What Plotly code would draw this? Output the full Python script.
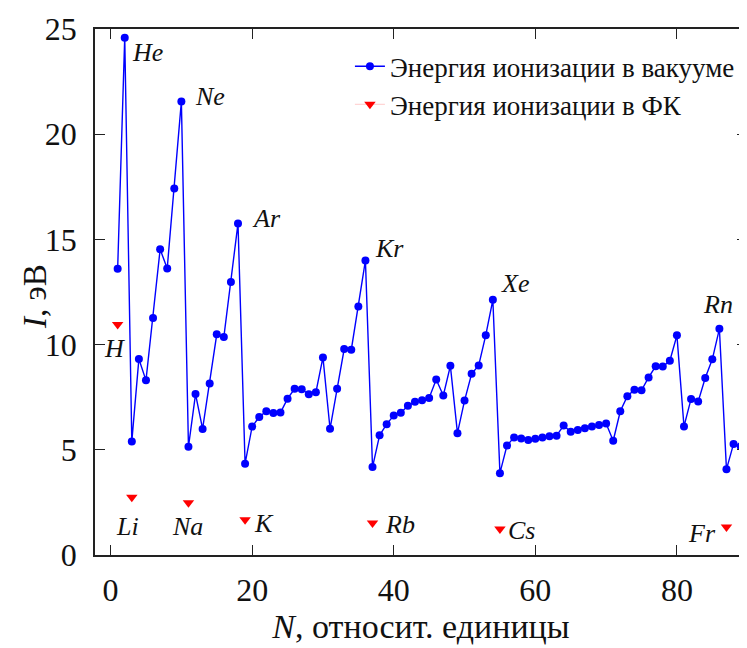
import plotly.graph_objects as go

# Atomic number N and first ionization energy in vacuum, eV
z_vac = list(range(1, 91))
i_vac = [13.60, 24.59, 5.39, 9.32, 8.30, 11.26, 14.53, 13.62, 17.42, 21.56,
         5.14, 7.65, 5.99, 8.15, 10.49, 10.36, 12.97, 15.76, 4.34, 6.11,
         6.56, 6.83, 6.75, 6.77, 7.43, 7.90, 7.88, 7.64, 7.73, 9.39,
         6.00, 7.90, 9.79, 9.75, 11.81, 14.00, 4.18, 5.69, 6.22, 6.63,
         6.76, 7.09, 7.28, 7.36, 7.46, 8.34, 7.58, 8.99, 5.79, 7.34,
         8.61, 9.01, 10.45, 12.13, 3.89, 5.21, 5.58, 5.54, 5.47, 5.53,
         5.58, 5.64, 5.67, 6.15, 5.86, 5.94, 6.02, 6.11, 6.18, 6.25,
         5.43, 6.83, 7.55, 7.86, 7.83, 8.44, 8.97, 8.96, 9.23, 10.44,
         6.11, 7.42, 7.29, 8.41, 9.30, 10.75, 4.07, 5.28, 5.17, 6.31]

# Ionization energy in the photonic crystal (ФК), eV
z_fk = [1, 3, 11, 19, 37, 55, 87]
i_fk = [10.95, 2.75, 2.48, 1.67, 1.52, 1.24, 1.33]
fk_names = ["H", "Li", "Na", "K", "Rb", "Cs", "Fr"]

noble_z = [2, 10, 18, 36, 54, 86]
noble_names = ["He", "Ne", "Ar", "Kr", "Xe", "Rn"]

# label offsets (pixels) relative to their points
noble_shift = [(23, -15), (29, 5), (28, 5), (24, 12), (22, 16), (-1, 24)]
fk_shift = [(-3, -24), (-4, -29), (-1, -24), (19, -4), (27, -1), (22, -2), (-24, -6)]

x_ticks = [0, 20, 40, 60, 80]
y_ticks = [0, 5, 10, 15, 20, 25]

SERIF = "Liberation Serif"

fig = go.Figure()
fig.add_trace(go.Scatter(
    x=z_vac, y=i_vac, mode="lines+markers",
    name="Энергия ионизации в вакууме",
    line=dict(color="#0000ff", width=1.4),
    marker=dict(color="#0000ff", size=8),
))
fig.add_trace(go.Scatter(
    x=z_fk, y=i_fk, mode="markers", showlegend=False,
    marker=dict(color="#ff0000", size=10, symbol="triangle-down"),
))
fig.add_trace(go.Scatter(
    x=[None], y=[None], mode="lines+markers",
    name="Энергия ионизации в ФК",
    line=dict(color="rgba(255,140,140,0.45)", width=1),
    marker=dict(color="#ff0000", size=10, symbol="triangle-down"),
))

ann_font = dict(family=SERIF, size=26, color="#111111", style="italic")
for zz, name, (dx, dy) in zip(noble_z, noble_names, noble_shift):
    fig.add_annotation(x=zz, y=i_vac[zz - 1], text=name, showarrow=False,
                       xshift=dx, yshift=dy, font=ann_font)
for zz, val, name, (dx, dy) in zip(z_fk, i_fk, fk_names, fk_shift):
    fig.add_annotation(x=zz, y=val, text=name, showarrow=False,
                       xshift=dx, yshift=dy, font=ann_font)

# y-axis title as rotated text
fig.add_annotation(x=0, y=0.5, xref="paper", yref="paper",
                   text="<i>I</i>, эВ", textangle=-90, showarrow=False,
                   xanchor="center", yanchor="middle", xshift=-60, yshift=-5,
                   font=dict(family=SERIF, size=33, color="#111111"))

axis_common = dict(
    showline=True, linecolor="#222222", linewidth=1.6, mirror="ticks",
    ticks="inside", ticklen=10, tickwidth=1.3, tickcolor="#222222",
    showgrid=False, zeroline=False, automargin=False,
    tickfont=dict(family=SERIF, size=32, color="#111111"),
)

fig.update_xaxes(range=[-2.2, 89.9], tickvals=x_ticks,
                 title=dict(text="<i>N</i>, относит. единицы",
                            font=dict(family=SERIF, size=34, color="#111111"),
                            standoff=6),
                 ticklabelstandoff=6, **axis_common)
fig.update_yaxes(range=[0, 25], tickvals=y_ticks,
                 ticklabelstandoff=10, **axis_common)

fig.update_layout(
    width=739, height=640,
    margin=dict(l=87, r=0, t=21, b=93),
    plot_bgcolor="white", paper_bgcolor="white",
    legend=dict(x=0.391, xanchor="left", y=0.975, yanchor="top",
                font=dict(family=SERIF, size=27, color="#111111"),
                bgcolor="rgba(0,0,0,0)", tracegroupgap=0),
)

fig.write_html("out.html")
